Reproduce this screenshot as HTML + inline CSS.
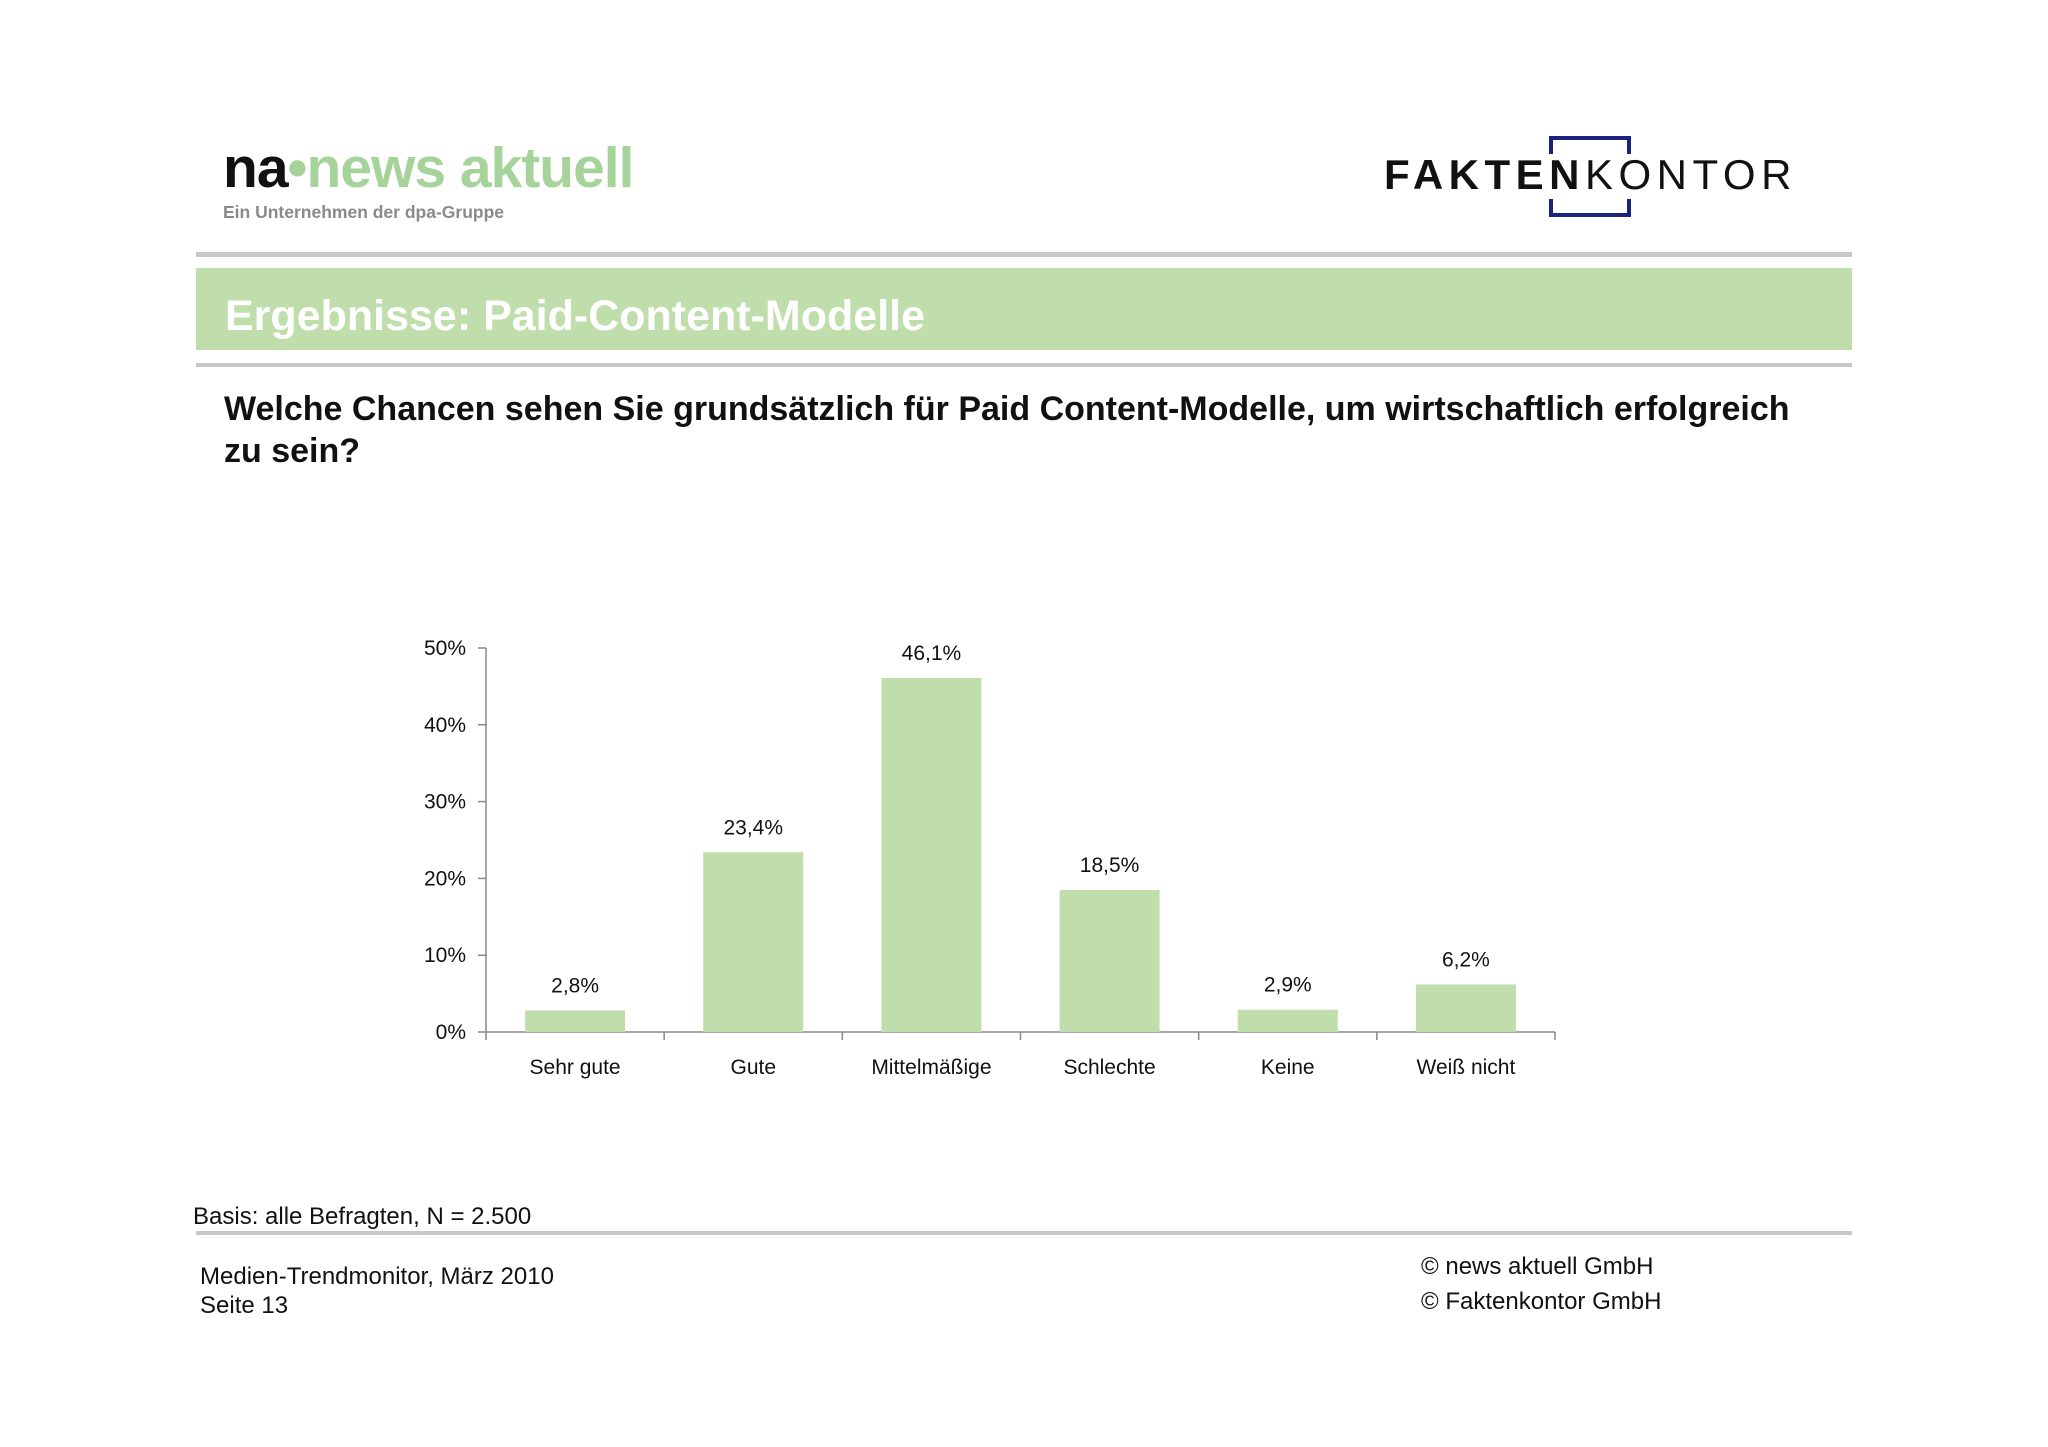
<!DOCTYPE html>
<html><head><meta charset="utf-8"><style>
body{margin:0;width:2048px;height:1447px;background:#fff;position:relative;overflow:hidden;font-family:"Liberation Sans",sans-serif}
.a{position:absolute;white-space:nowrap;line-height:1}
</style></head><body>
<div class="a" style="left:223px;top:140px;font-size:57px;font-weight:bold;letter-spacing:-1px"><span style="color:#111">na</span><span style="color:#a6d39a">•news aktuell</span></div>
<div class="a" style="left:223px;top:204px;font-size:17.5px;font-weight:bold;color:#8a8a8a">Ein Unternehmen der dpa-Gruppe</div>
<div class="a" style="left:1549px;top:136px;width:74px;height:14px;border:4px solid #1a237e;border-bottom:none"></div>
<div class="a" style="left:1549px;top:199px;width:74px;height:14px;border:4px solid #1a237e;border-top:none"></div>
<div class="a" style="left:1384px;top:154px;font-size:42px;color:#111;letter-spacing:5.5px"><b>FAKTEN</b>KONTOR</div>
<div class="a" style="left:196px;top:252px;width:1656px;height:5px;background:#c8c8c8"></div>
<div class="a" style="left:196px;top:268px;width:1656px;height:82px;background:#bfdeac"></div>
<div class="a" style="left:225px;top:295px;font-size:43px;font-weight:bold;color:#fff">Ergebnisse: Paid-Content-Modelle</div>
<div class="a" style="left:196px;top:363px;width:1656px;height:4px;background:#c8c8c8"></div>
<div class="a" style="left:224px;top:388px;font-size:34px;font-weight:bold;color:#111;line-height:42px">Welche Chancen sehen Sie grundsätzlich für Paid Content-Modelle, um wirtschaftlich erfolgreich<br>zu sein?</div>
<svg class="a" style="left:0;top:0" width="2048" height="1447" id="chart"></svg>
<div class="a" style="left:193px;top:1205px;font-size:24px;color:#111">Basis: alle Befragten, N = 2.500</div>
<div class="a" style="left:196px;top:1231px;width:1656px;height:4px;background:#c8c8c8"></div>
<div class="a" style="left:200px;top:1262px;font-size:24px;color:#111;line-height:29px">Medien-Trendmonitor, März 2010<br>Seite 13</div>
<div class="a" style="left:1421px;top:1249px;font-size:24px;color:#111;line-height:35px">© news aktuell GmbH<br>© Faktenkontor GmbH</div>
<script>
const categories=["Sehr gute","Gute","Mittelmäßige","Schlechte","Keine","Weiß nicht"];
const values=[2.8,23.4,46.1,18.5,2.9,6.2];
const labels=["2,8%","23,4%","46,1%","18,5%","2,9%","6,2%"];
const ticks=[0,10,20,30,40,50];
const svg=document.getElementById('chart');const NS='http://www.w3.org/2000/svg';
const x0=486,x1=1555,y0=1032,y1=648,vmax=50;
const y=v=>y0-(y0-y1)*v/vmax;const bw=(x1-x0)/categories.length;
function mk(t,a,txt){const e=document.createElementNS(NS,t);for(const k in a)e.setAttribute(k,a[k]);if(txt!==undefined)e.textContent=txt;svg.appendChild(e);return e;}
let e=mk('line',{x1:x0,y1:y1,x2:x0,y2:y0,stroke:'#888','stroke-width':1.5});

e=mk('line',{x1:x0,y1:y0,x2:x1,y2:y0,stroke:'#888','stroke-width':1.5});

ticks.forEach(t=>{e=mk('line',{x1:x0-8,y1:y(t),x2:x0,y2:y(t),stroke:'#888','stroke-width':1.5});

e=mk('text',{x:466,y:y(t)+7,'text-anchor':'end','font-size':21,fill:'#111'},t+'%');
});
for(let i=0;i<=categories.length;i++){e=mk('line',{x1:x0+i*bw,y1:y0,x2:x0+i*bw,y2:y0+8,stroke:'#888','stroke-width':1.5});
}
categories.forEach((c,i)=>{const cx=x0+bw*(i+0.5);
e=mk('rect',{x:cx-50,y:y(values[i]),width:100,height:y0-y(values[i]),fill:'#bfdeac'});

e=mk('text',{x:cx,y:y(values[i])-18,'text-anchor':'middle','font-size':21,fill:'#111'},labels[i]);

e=mk('text',{x:cx,y:1074,'text-anchor':'middle','font-size':21,fill:'#111'},c);
});
</script>
</body></html>
